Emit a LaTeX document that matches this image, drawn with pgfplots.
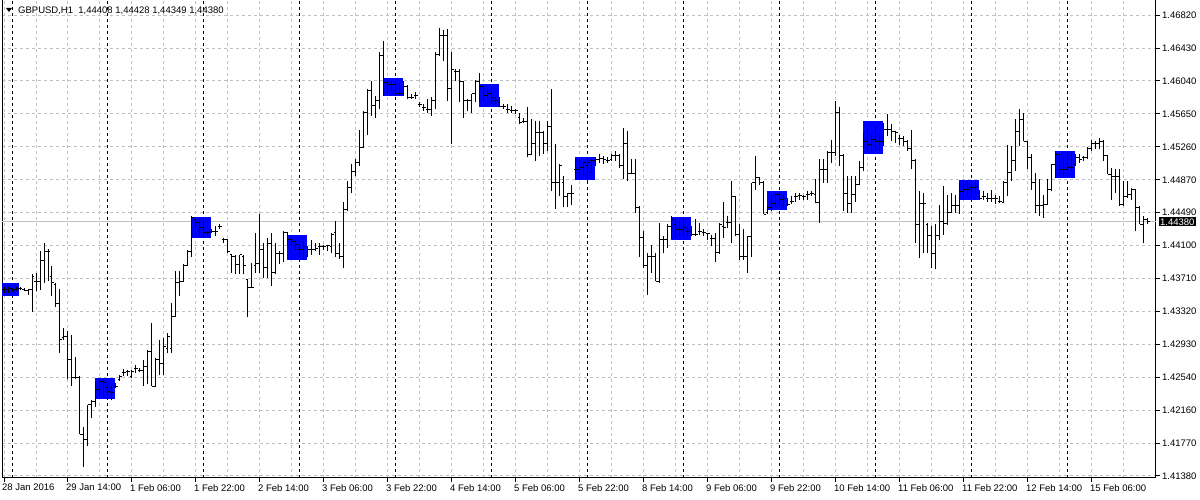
\documentclass[border=0pt]{standalone}
\usepackage{pgfplots}
\pgfplotsset{compat=1.18}
\usepackage{pgfplotstable}
\usepackage{fontspec}
\setmainfont{Liberation Sans}

\definecolor{gridgray}{RGB}{192,192,192}
\definecolor{mtblue}{RGB}{0,0,255}

% hourly bars, i = bar number from 28 Jan 22:00
\pgfplotstableread{
i o h l c
0 1.4358 1.4361 1.4354 1.4358
1 1.4358 1.4361 1.4354 1.4359
2 1.4359 1.4360 1.4355 1.4358
3 1.4358 1.4361 1.4356 1.4359
4 1.4359 1.4361 1.4357 1.4359
5 1.4358 1.4360 1.4356 1.4357
6 1.4357 1.4359 1.4352 1.4358
7 1.4358 1.4376 1.4332 1.4374
8 1.4367 1.4378 1.4356 1.4367
9 1.4367 1.4403 1.4358 1.4392
10 1.4392 1.4413 1.4366 1.4403
11 1.4403 1.4406 1.4368 1.4403
12 1.4374 1.4386 1.4350 1.4366
13 1.4364 1.4366 1.4338 1.4342
14 1.4342 1.4359 1.4283 1.4299
15 1.4301 1.4313 1.4299 1.4303
16 1.4303 1.4309 1.4252 1.4275
17 1.4275 1.4305 1.4244 1.4254
18 1.4254 1.4279 1.4252 1.4254
19 1.4254 1.4256 1.4187 1.4187
20 1.4187 1.4196 1.4149 1.4181
21 1.4181 1.4222 1.4173 1.4222
22 1.4222 1.4228 1.4206 1.4226
23 1.4226 1.4250 1.4220 1.4240
24 1.4240 1.4252 1.4232 1.4250
25 1.4250 1.4254 1.4232 1.4248
26 1.4242 1.4246 1.4228 1.4238
27 1.4236 1.4244 1.4228 1.4236
28 1.4244 1.4248 1.4242 1.4244
29 1.4252 1.4257 1.4250 1.4256
30 1.4260 1.4264 1.4256 1.4260
31 1.4261 1.4263 1.4256 1.4261
32 1.4256 1.4263 1.4254 1.4261
33 1.4265 1.4269 1.4259 1.4265
34 1.4263 1.4265 1.4261 1.4263
35 1.4263 1.4275 1.4244 1.4267
36 1.4267 1.4287 1.4246 1.4285
37 1.4285 1.4319 1.4244 1.4244
38 1.4244 1.4277 1.4244 1.4275
39 1.4275 1.4299 1.4257 1.4271
40 1.4271 1.4301 1.4257 1.4291
41 1.4289 1.4307 1.4283 1.4303
42 1.4289 1.4342 1.4283 1.4326
43 1.4326 1.4380 1.4326 1.4366
44 1.4366 1.4380 1.4350 1.4368
45 1.4368 1.4388 1.4368 1.4386
46 1.4386 1.4405 1.4386 1.4403
47 1.4403 1.4445 1.4397 1.4443
48 1.4441 1.4443 1.4431 1.4437
49 1.4437 1.4443 1.4421 1.4431
50 1.4431 1.4441 1.4419 1.4425
51 1.4425 1.4427 1.4421 1.4425
52 1.4427 1.4429 1.4425 1.4427
53 1.4427 1.4433 1.4421 1.4427
54 1.4433 1.4435 1.4429 1.4433
55 1.4417 1.4419 1.4413 1.4417
56 1.4417 1.4417 1.4401 1.4403
57 1.4399 1.4399 1.4378 1.4397
58 1.4397 1.4399 1.4376 1.4388
59 1.4388 1.4399 1.4376 1.4399
60 1.4397 1.4399 1.4376 1.4386
61 1.4370 1.4370 1.4326 1.4360
62 1.4360 1.4389 1.4360 1.4360
63 1.4386 1.4425 1.4378 1.4389
64 1.4389 1.4447 1.4378 1.4405
65 1.4405 1.4413 1.4372 1.4384
66 1.4384 1.4419 1.4372 1.4413
67 1.4413 1.4425 1.4362 1.4378
68 1.4378 1.4413 1.4376 1.4401
69 1.4401 1.4403 1.4388 1.4401
70 1.4401 1.4427 1.4391 1.4425
71 1.4425 1.4425 1.4411 1.4417
72 1.4417 1.4419 1.4409 1.4415
73 1.4415 1.4417 1.4405 1.4411
74 1.4405 1.4411 1.4395 1.4405
75 1.4405 1.4415 1.4393 1.4409
76 1.4399 1.4409 1.4397 1.4405
77 1.4405 1.4417 1.4399 1.4405
78 1.4405 1.4413 1.4403 1.4407
79 1.4409 1.4413 1.4399 1.4409
80 1.4409 1.4411 1.4405 1.4409
81 1.4410 1.4411 1.4403 1.4410
82 1.4409 1.4425 1.4401 1.4423
83 1.4425 1.4439 1.4397 1.4401
84 1.4401 1.4413 1.4394 1.4397
85 1.4397 1.4462 1.4384 1.4453
86 1.4453 1.4486 1.4451 1.4478
87 1.4478 1.4506 1.4472 1.4498
88 1.4498 1.4512 1.4492 1.4508
89 1.4508 1.4547 1.4504 1.4526
90 1.4526 1.4569 1.4526 1.4567
91 1.4567 1.4595 1.4541 1.4593
92 1.4593 1.4604 1.4563 1.4575
93 1.4575 1.4587 1.4561 1.4581
94 1.4581 1.4638 1.4571 1.4634
95 1.4634 1.4652 1.4587 1.4602
96 1.4602 1.4606 1.4589 1.4600
97 1.4600 1.4604 1.4593 1.4600
98 1.4600 1.4604 1.4587 1.4589
99 1.4589 1.4602 1.4587 1.4589
100 1.4589 1.4604 1.4587 1.4598
101 1.4598 1.4600 1.4583 1.4585
102 1.4585 1.4589 1.4583 1.4585
103 1.4587 1.4591 1.4583 1.4587
104 1.4577 1.4579 1.4573 1.4577
105 1.4573 1.4577 1.4569 1.4573
106 1.4571 1.4583 1.4567 1.4571
107 1.4571 1.4585 1.4563 1.4581
108 1.4581 1.4638 1.4571 1.4636
109 1.4636 1.4667 1.4634 1.4658
110 1.4658 1.4664 1.4628 1.4658
111 1.4658 1.4666 1.4581 1.4595
112 1.4595 1.4638 1.4530 1.4618
113 1.4616 1.4618 1.4604 1.4616
114 1.4616 1.4618 1.4579 1.4604
115 1.4604 1.4604 1.4561 1.4581
116 1.4581 1.4583 1.4569 1.4581
117 1.4581 1.4589 1.4567 1.4589
118 1.4589 1.4606 1.4579 1.4604
119 1.4604 1.4614 1.4579 1.4598
120 1.4598 1.4598 1.4581 1.4587
121 1.4587 1.4595 1.4583 1.4589
122 1.4589 1.4598 1.4577 1.4585
123 1.4581 1.4585 1.4577 1.4581
124 1.4579 1.4585 1.4573 1.4574
125 1.4574 1.4577 1.4571 1.4574
126 1.4571 1.4577 1.4567 1.4571
127 1.4569 1.4575 1.4567 1.4569
128 1.4569 1.4571 1.4565 1.4569
129 1.4561 1.4567 1.4553 1.4555
130 1.4557 1.4561 1.4555 1.4557
131 1.4557 1.4573 1.4514 1.4518
132 1.4518 1.4559 1.4518 1.4530
133 1.4530 1.4557 1.4510 1.4543
134 1.4543 1.4557 1.4516 1.4543
135 1.4543 1.4545 1.4518 1.4531
136 1.4531 1.4557 1.4522 1.4551
137 1.4551 1.4595 1.4474 1.4484
138 1.4484 1.4530 1.4453 1.4484
139 1.4484 1.4506 1.4468 1.4504
140 1.4484 1.4492 1.4455 1.4468
141 1.4468 1.4472 1.4455 1.4472
142 1.4472 1.4482 1.4458 1.4472
143 1.4500 1.4512 1.4488 1.4500
144 1.4500 1.4512 1.4488 1.4502
145 1.4502 1.4510 1.4492 1.4508
146 1.4504 1.4514 1.4484 1.4508
147 1.4510 1.4512 1.4496 1.4510
148 1.4510 1.4514 1.4504 1.4512
149 1.4512 1.4518 1.4508 1.4513
150 1.4513 1.4516 1.4506 1.4512
151 1.4511 1.4514 1.4508 1.4511
152 1.4512 1.4518 1.4510 1.4516
153 1.4516 1.4522 1.4510 1.4516
154 1.4516 1.4518 1.4502 1.4505
155 1.4505 1.4549 1.4488 1.4531
156 1.4531 1.4545 1.4486 1.4495
157 1.4495 1.4512 1.4494 1.4495
158 1.4495 1.4512 1.4449 1.4455
159 1.4455 1.4457 1.4397 1.4419
160 1.4419 1.4427 1.4384 1.4386
161 1.4386 1.4401 1.4352 1.4397
162 1.4397 1.4411 1.4378 1.4397
163 1.4397 1.4401 1.4368 1.4368
164 1.4368 1.4437 1.4366 1.4417
165 1.4417 1.4421 1.4401 1.4417
166 1.4417 1.4435 1.4407 1.4433
167 1.4433 1.4445 1.4419 1.4441
168 1.4435 1.4441 1.4419 1.4429
169 1.4429 1.4439 1.4421 1.4429
170 1.4429 1.4443 1.4421 1.4431
171 1.4427 1.4433 1.4421 1.4427
172 1.4423 1.4433 1.4421 1.4423
173 1.4423 1.4441 1.4421 1.4423
174 1.4427 1.4437 1.4423 1.4427
175 1.4425 1.4429 1.4421 1.4425
176 1.4424 1.4425 1.4417 1.4424
177 1.4418 1.4423 1.4409 1.4418
178 1.4418 1.4425 1.4391 1.4402
179 1.4402 1.4437 1.4400 1.4435
180 1.4433 1.4462 1.4419 1.4431
181 1.4437 1.4445 1.4431 1.4437
182 1.4437 1.4486 1.4413 1.4468
183 1.4468 1.4468 1.4421 1.4423
184 1.4423 1.4435 1.4393 1.4397
185 1.4397 1.4429 1.4393 1.4397
186 1.4397 1.4421 1.4378 1.4421
187 1.4421 1.4484 1.4397 1.4484
188 1.4484 1.4516 1.4476 1.4490
189 1.4490 1.4490 1.4482 1.4484
190 1.4484 1.4486 1.4447 1.4447
191 1.4449 1.4457 1.4447 1.4455
192 1.4455 1.4470 1.4451 1.4460
193 1.4460 1.4472 1.4455 1.4470
194 1.4470 1.4472 1.4457 1.4464
195 1.4464 1.4470 1.4455 1.4466
196 1.4459 1.4466 1.4457 1.4459
197 1.4462 1.4468 1.4459 1.4462
198 1.4468 1.4472 1.4462 1.4468
199 1.4469 1.4472 1.4464 1.4469
200 1.4468 1.4470 1.4464 1.4468
201 1.4470 1.4474 1.4464 1.4470
202 1.4471 1.4474 1.4468 1.4471
203 1.4470 1.4488 1.4460 1.4461
204 1.4461 1.4512 1.4437 1.4500
205 1.4500 1.4512 1.4484 1.4500
206 1.4500 1.4522 1.4484 1.4520
207 1.4520 1.4535 1.4508 1.4520
208 1.4520 1.4581 1.4516 1.4567
209 1.4567 1.4573 1.4504 1.4516
210 1.4516 1.4518 1.4451 1.4472
211 1.4472 1.4492 1.4449 1.4460
212 1.4460 1.4492 1.4449 1.4470
213 1.4470 1.4492 1.4462 1.4482
214 1.4482 1.4510 1.4482 1.4502
215 1.4502 1.4543 1.4498 1.4533
216 1.4533 1.4549 1.4520 1.4529
217 1.4529 1.4541 1.4520 1.4535
218 1.4535 1.4551 1.4522 1.4533
219 1.4533 1.4541 1.4522 1.4533
220 1.4533 1.4555 1.4528 1.4547
221 1.4547 1.4565 1.4539 1.4547
222 1.4547 1.4553 1.4533 1.4545
223 1.4545 1.4545 1.4531 1.4543
224 1.4536 1.4541 1.4529 1.4536
225 1.4536 1.4539 1.4528 1.4533
226 1.4533 1.4535 1.4522 1.4525
227 1.4525 1.4547 1.4500 1.4510
228 1.4510 1.4512 1.4413 1.4435
229 1.4435 1.4474 1.4395 1.4460
230 1.4460 1.4472 1.4401 1.4460
231 1.4435 1.4437 1.4401 1.4422
232 1.4422 1.4433 1.4384 1.4401
233 1.4401 1.4435 1.4382 1.4422
234 1.4422 1.4458 1.4417 1.4438
235 1.4438 1.4480 1.4423 1.4436
236 1.4436 1.4470 1.4434 1.4449
237 1.4449 1.4472 1.4449 1.4457
238 1.4457 1.4470 1.4449 1.4457
239 1.4457 1.4484 1.4447 1.4474
240 1.4474 1.4486 1.4464 1.4476
241 1.4476 1.4486 1.4468 1.4476
242 1.4478 1.4484 1.4466 1.4478
243 1.4478 1.4486 1.4472 1.4480
244 1.4468 1.4476 1.4464 1.4466
245 1.4468 1.4474 1.4464 1.4468
246 1.4466 1.4472 1.4462 1.4466
247 1.4466 1.4476 1.4462 1.4466
248 1.4465 1.4470 1.4459 1.4465
249 1.4462 1.4468 1.4460 1.4462
250 1.4461 1.4486 1.4460 1.4484
251 1.4484 1.4529 1.4468 1.4496
252 1.4496 1.4528 1.4486 1.4510
253 1.4510 1.4559 1.4498 1.4545
254 1.4545 1.4571 1.4528 1.4559
255 1.4559 1.4567 1.4533 1.4533
256 1.4533 1.4533 1.4500 1.4514
257 1.4514 1.4518 1.4476 1.4484
258 1.4484 1.4496 1.4449 1.4457
259 1.4457 1.4488 1.4445 1.4457
260 1.4457 1.4470 1.4443 1.4458
261 1.4458 1.4488 1.4458 1.4476
262 1.4476 1.4506 1.4474 1.4506
263 1.4506 1.4522 1.4490 1.4518
264 1.4518 1.4518 1.4492 1.4500
265 1.4500 1.4512 1.4492 1.4500
266 1.4500 1.4522 1.4500 1.4502
267 1.4502 1.4522 1.4498 1.4502
268 1.4506 1.4518 1.4504 1.4514
269 1.4514 1.4518 1.4508 1.4512
270 1.4514 1.4516 1.4510 1.4514
271 1.4514 1.4526 1.4512 1.4524
272 1.4524 1.4535 1.4522 1.4531
273 1.4531 1.4533 1.4524 1.4531
274 1.4531 1.4537 1.4524 1.4533
275 1.4533 1.4535 1.4510 1.4516
276 1.4516 1.4516 1.4494 1.4494
277 1.4494 1.4502 1.4464 1.4492
278 1.4492 1.4500 1.4472 1.4492
279 1.4492 1.4500 1.4457 1.4458
280 1.4458 1.4486 1.4457 1.4468
281 1.4468 1.4486 1.4466 1.4470
282 1.4470 1.4478 1.4464 1.4476
283 1.4476 1.4476 1.4427 1.4455
284 1.4455 1.4457 1.4435 1.4435
285 1.4435 1.4445 1.4413 1.4441
286 1.44408 1.44428 1.44349 1.44380
}\bars

\begin{document}
\begin{tikzpicture}[font=\fontsize{9.5}{11}\selectfont]
\path[use as bounding box, fill=white] (-2pt,-22pt) rectangle (1198pt,478pt);
\begin{axis}[
  at={(0,0)}, anchor=south west,
  scale only axis, width=1154pt, height=478pt,
  xmin=-0.5, xmax=288, ymin=1.41356, ymax=1.46999,
  axis line style={black, line width=1pt},
  xtick={0,16,...,272},
  xticklabels={28 Jan 2016, 29 Jan 14:00, 1 Feb 06:00, 1 Feb 22:00, 2 Feb 14:00,
    3 Feb 06:00, 3 Feb 22:00, 4 Feb 14:00, 5 Feb 06:00, 5 Feb 22:00, 8 Feb 14:00,
    9 Feb 06:00, 9 Feb 22:00, 10 Feb 14:00, 11 Feb 06:00, 11 Feb 22:00,
    12 Feb 14:00, 15 Feb 06:00},
  minor xtick={8,24,...,280},
  ytick={1.4138,1.41769,1.42157,1.42546,1.42934,1.43323,1.43711,1.441,
    1.44489,1.44877,1.45266,1.45654,1.46043,1.46431,1.4682},
  yticklabels={1.41380,1.41770,1.42160,1.42540,1.42930,1.43320,1.43710,1.44100,
    1.44490,1.44870,1.45260,1.45650,1.46040,1.46430,1.46820},
  xtick pos=bottom, ytick pos=right, yticklabel pos=right,
  tick align=outside, major tick length=4pt, minor tick length=0pt,
  tick style={black, line width=1pt},
  grid=both,
  major grid style={gridgray, line width=1pt, dash pattern=on 3pt off 3pt},
  minor grid style={gridgray, line width=1pt, dash pattern=on 3pt off 3pt},
  xticklabel style={anchor=north west, inner sep=0pt, xshift=-2pt, yshift=-2pt},
  yticklabel style={anchor=west, inner sep=0pt, xshift=2pt},
  extra x ticks={2,26,...,266},
  extra x tick labels={},
  extra x tick style={grid=major, major tick length=0pt,
    major grid style={black, line width=1pt, dash pattern=on 3pt off 3pt}},
  extra y ticks={1.4438},
  extra y tick labels={1.44380},
  extra y tick style={grid=major, major tick length=0pt,
    major grid style={gridgray, solid, line width=1pt},
    yticklabel style={fill=black, text=white, inner sep=1pt, xshift=1pt}},
]
% blue session boxes
\addplot[fill=mtblue, draw=none, forget plot] coordinates {(-1.25,1.43509) (3.75,1.43509) (3.75,1.43663) (-1.25,1.43663)} --cycle;
\addplot[fill=mtblue, draw=none, forget plot] coordinates {(22.75,1.42291) (27.75,1.42291) (27.75,1.42539) (22.75,1.42539)} --cycle;
\addplot[fill=mtblue, draw=none, forget plot] coordinates {(46.75,1.44195) (51.75,1.44195) (51.75,1.44443) (46.75,1.44443)} --cycle;
\addplot[fill=mtblue, draw=none, forget plot] coordinates {(70.75,1.43934) (75.75,1.43934) (75.75,1.44230) (70.75,1.44230)} --cycle;
\addplot[fill=mtblue, draw=none, forget plot] coordinates {(94.75,1.45862) (99.75,1.45862) (99.75,1.46075) (94.75,1.46075)} --cycle;
\addplot[fill=mtblue, draw=none, forget plot] coordinates {(118.75,1.45732) (123.75,1.45732) (123.75,1.46004) (118.75,1.46004)} --cycle;
\addplot[fill=mtblue, draw=none, forget plot] coordinates {(142.75,1.44869) (147.75,1.44869) (147.75,1.45141) (142.75,1.45141)} --cycle;
\addplot[fill=mtblue, draw=none, forget plot] coordinates {(166.75,1.44171) (171.75,1.44171) (171.75,1.44443) (166.75,1.44443)} --cycle;
\addplot[fill=mtblue, draw=none, forget plot] coordinates {(190.75,1.44514) (195.75,1.44514) (195.75,1.44739) (190.75,1.44739)} --cycle;
\addplot[fill=mtblue, draw=none, forget plot] coordinates {(214.75,1.45176) (219.75,1.45176) (219.75,1.45566) (214.75,1.45566)} --cycle;
\addplot[fill=mtblue, draw=none, forget plot] coordinates {(238.75,1.44632) (243.75,1.44632) (243.75,1.44869) (238.75,1.44869)} --cycle;
\addplot[fill=mtblue, draw=none, forget plot] coordinates {(262.75,1.44892) (267.75,1.44892) (267.75,1.45212) (262.75,1.45212)} --cycle;

% high-low lines
\addplot[draw=none, mark=none, forget plot,
  error bars/.cd, y dir=plus, y explicit, error mark=none,
  error bar style={draw=black, solid, line width=1pt}]
  table[x=i, y=l, y error plus expr=\thisrow{h}-\thisrow{l}] {\bars};
% open and close ticks
\addplot[only marks, mark=-, mark size=0.9pt, forget plot,
  mark options={xshift=-0.9pt, draw=black, solid, line width=1pt}]
  table[x=i, y=o] {\bars};
\addplot[only marks, mark=-, mark size=0.9pt, forget plot,
  mark options={xshift=0.9pt, draw=black, solid, line width=1pt}]
  table[x=i, y=c] {\bars};
\end{axis}
\fill[black] (4pt,470pt) -- (10pt,470pt) -- (7pt,466pt) -- cycle;
\node[anchor=base west, inner sep=0pt] at (16pt,464pt)
  {GBPUSD,H1\ \ 1,44408 1,44428 1,44349 1,44380};
\end{tikzpicture}
\end{document}
